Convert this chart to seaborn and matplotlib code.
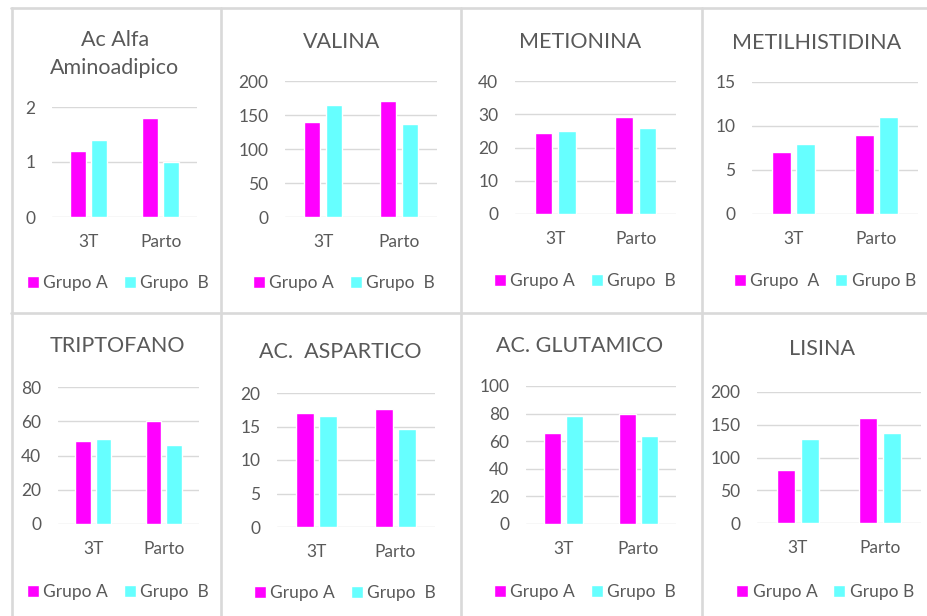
import pandas as pd
import seaborn as sns
import matplotlib.pyplot as plt
from matplotlib.lines import Line2D

# datos
momentos = ['3T', 'Parto']
titulos = ['Ac Alfa\nAminoadipico', 'VALINA', 'METIONINA', 'METILHISTIDINA',
           'TRIPTOFANO', 'AC.  ASPARTICO', 'AC. GLUTAMICO', 'LISINA']
grupo_a = [[1.2, 1.8], [140, 171], [24.4, 29.2], [7, 9],
           [48.5, 60.3], [17, 17.6], [66, 80], [81, 161]]
grupo_b = [[1.4, 1.0], [165, 137], [25, 25.9], [8, 11],
           [49.6, 46], [16.6, 14.6], [78, 64], [128, 137]]
ley_a = ['Grupo A', 'Grupo A', 'Grupo A', 'Grupo  A', 'Grupo A', 'Grupo A', 'Grupo A', 'Grupo A']
ley_b = ['Grupo  B', 'Grupo  B', 'Grupo  B', 'Grupo B', 'Grupo  B', 'Grupo  B', 'Grupo  B', 'Grupo B']
y_max = [2, 200, 40, 15, 80, 20, 100, 200]
y_paso = [1, 50, 10, 5, 20, 5, 20, 50]

# posiciones en pixeles: (izq, der, arriba, abajo), titulo (x, y), leyenda (x, y)
ejes = [(52, 197, 107, 217), (285, 437, 81, 217), (515, 676, 81, 214), (752, 918, 82, 214),
        (58, 199, 387, 524), (277, 435, 393, 527), (526, 676, 386, 524), (757, 921, 392, 523)]
pos_titulo = [(115, 54), (342, 42), (580, 42), (817, 43),
              (117, 346), (340, 352), (580, 346), (822, 349)]
pos_leyenda = [(118, 283), (344, 283), (585, 281), (825, 281),
               (118, 592), (345, 593), (585, 592), (825, 592)]

W, H = 927, 616
gris_texto = '#595959'
gris_linea = '#d9d9d9'
colores = ['#ff00ff', '#66ffff']

sns.set_style('white')
plt.rcParams['font.family'] = ['Lato', 'DejaVu Sans']

fig = plt.figure(figsize=(W / 100, H / 100), dpi=100)
fig.patch.set_facecolor('white')

# bordes de los paneles
for x in [12, 220.5, 461, 702]:
    fig.add_artist(Line2D([x / W, x / W], [1 - 8 / H, 0], color=gris_linea, lw=1.9,
                          transform=fig.transFigure))
for y in [8, 313]:
    fig.add_artist(Line2D([11 / W, 1], [1 - y / H, 1 - y / H], color=gris_linea, lw=1.9,
                          transform=fig.transFigure))

for i in range(8):
    l, r, t, b = ejes[i]
    ax = fig.add_axes([l / W, 1 - b / H, (r - l) / W, (b - t) / H])
    df = pd.DataFrame({
        'momento': momentos * 2,
        'grupo': ['A', 'A', 'B', 'B'],
        'valor': grupo_a[i] + grupo_b[i],
    })
    sns.barplot(data=df, x='momento', y='valor', hue='grupo', palette=colores,
                saturation=1, width=0.58, gap=0.24, errorbar=None, ax=ax)
    ax.set_xlim(-0.5, 1.5)
    ax.set_ylim(0, y_max[i])
    ax.set_yticks(range(0, y_max[i] + 1, y_paso[i]))
    ax.set_xlabel('')
    ax.set_ylabel('')
    ax.yaxis.grid(True, color=gris_linea, lw=1)
    ax.set_axisbelow(True)
    for s in ax.spines.values():
        s.set_visible(False)
    ax.tick_params(axis='y', length=0, pad=12, labelsize=12.5, labelcolor=gris_texto)
    ax.tick_params(axis='x', length=0, pad=12, labelsize=12.5, labelcolor=gris_texto)

    handles, _ = ax.get_legend_handles_labels()
    cx, cy = pos_leyenda[i]
    ax.legend(handles, [ley_a[i], ley_b[i]], loc='center', ncol=2,
              bbox_to_anchor=(cx / W, 1 - cy / H), bbox_transform=fig.transFigure,
              frameon=False, fontsize=12.5, labelcolor=gris_texto,
              handlelength=0.7, handleheight=0.7, handletextpad=0.25,
              columnspacing=0.9, borderpad=0)

    tx, ty = pos_titulo[i]
    fig.text(tx / W, 1 - ty / H, titulos[i], ha='center', va='center',
             fontsize=15.5, color=gris_texto, linespacing=1.5)

fig.savefig('out.png', dpi=100)
